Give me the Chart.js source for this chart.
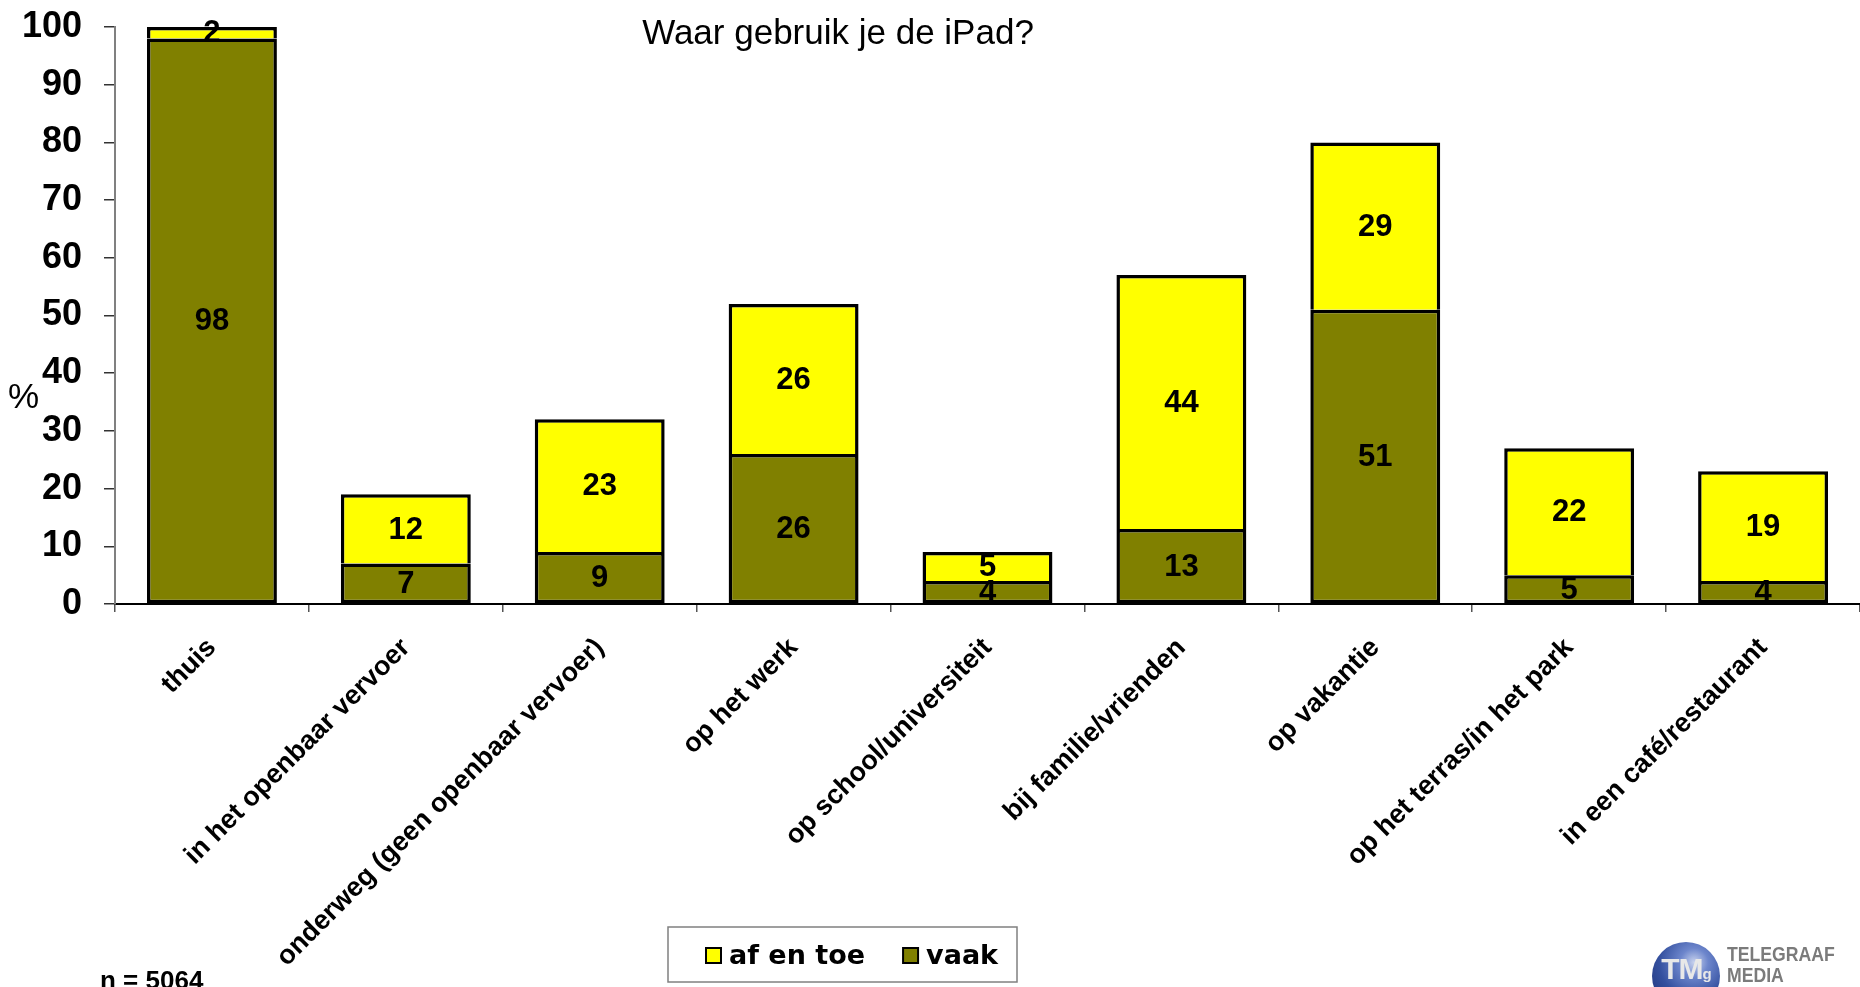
<!DOCTYPE html>
<html lang="nl">
<head>
<meta charset="utf-8">
<title>Waar gebruik je de iPad?</title>
<script src="https://cdn.jsdelivr.net/npm/chart.js@4.4.1/dist/chart.umd.min.js"></script>
<style>
  html, body { margin: 0; padding: 0; background: #fff; overflow: hidden; }
  #wrap { position: relative; width: 1860px; height: 987px; overflow: hidden; }
  #chart { position: absolute; left: 0; top: 0; }
  .globe {
    position: absolute; left: 1652px; top: 942px; width: 68px; height: 68px; border-radius: 50%;
    background: radial-gradient(circle at 62% 30%, #c9d3ee 0, #6d86cc 22%, #34509f 55%, #1b2c70 100%);
    color: #e8e8e8; font: bold 30px "Liberation Sans", Arial, sans-serif; text-align: center;
    line-height: 54px; letter-spacing: -1px;
  }
  .globe small { font-size: 15px; }
  .logo-text {
    position: absolute; left: 1727px; top: 943px; color: #7b7b7b;
    font: bold 21px "Liberation Sans", Arial, sans-serif; line-height: 21px;
    transform: scaleX(0.84); transform-origin: left top; white-space: nowrap;
  }
</style>
</head>
<body>
<div id="wrap">
  <canvas id="chart" width="1860" height="987"></canvas>
  <div class="globe">TM<small>g</small></div>
  <div class="logo-text">TELEGRAAF<br>MEDIA</div>
</div>
<script>
// --- Datos ---

const categories = [
  "thuis",
  "in het openbaar vervoer",
  "onderweg (geen openbaar vervoer)",
  "op het werk",
  "op school/universiteit",
  "bij familie/vrienden",
  "op vakantie",
  "op het terras/in het park",
  "in een café/restaurant",
];
const vaak = [98, 7, 9, 26, 4, 13, 51, 5, 4];
const afEnToe = [2, 12, 23, 26, 5, 44, 29, 22, 19];
const yMin = 0;
const yMax = 100;
const yStep = 10;

const titleText = "Waar gebruik je de iPad?";
const yAxisLabel = "%";
const sampleNote = "n = 5064";

// --- Fuentes ---

const SANS = "'Liberation Sans', Arial, sans-serif";
const LEGEND_FONT = "bold 27px 'DejaVu Sans', Verdana, sans-serif";

// --- Plugins ---

// números dentro de cada segmento
const segmentLabels = {
  id: "segmentLabels",
  afterDatasetsDraw(chart) {
    const ctx = chart.ctx;
    ctx.save();
    ctx.font = `bold 31px ${SANS}`;
    ctx.fillStyle = "#000";
    ctx.textAlign = "center";
    ctx.textBaseline = "middle";
    chart.data.datasets.forEach((ds, i) => {
      chart.getDatasetMeta(i).data.forEach((bar, j) => {
        const { x, y, base } = bar.getProps(["x", "y", "base"], true);
        ctx.fillText(String(ds.data[j]), x, (y + base) / 2 + 1);
      });
    });
    ctx.restore();
  },
};

// título, "%" y nota de muestra
const extraTexts = {
  id: "extraTexts",
  afterDraw(chart) {
    const ctx = chart.ctx;
    ctx.save();
    ctx.fillStyle = "#000";
    ctx.textBaseline = "alphabetic";

    ctx.font = `35px ${SANS}`;
    ctx.textAlign = "center";
    ctx.fillText(titleText, 838, 44);

    ctx.textAlign = "left";
    ctx.fillText(yAxisLabel, 8, 408);

    ctx.font = `bold 26px ${SANS}`;
    ctx.fillText(sampleNote, 100, 989);
    ctx.restore();
  },
};

// leyenda con marco, en orden inverso (como en el original)
const boxedLegend = {
  id: "boxedLegend",
  afterDraw(chart) {
    const ctx = chart.ctx;
    ctx.save();
    ctx.strokeStyle = "#808080";
    ctx.lineWidth = 1.5;
    ctx.strokeRect(668, 927, 349, 55);

    ctx.font = LEGEND_FONT;
    ctx.textAlign = "left";
    ctx.textBaseline = "alphabetic";
    let x = 706;
    chart.data.datasets.slice().reverse().forEach(ds => {
      ctx.fillStyle = ds.backgroundColor;
      ctx.fillRect(x, 948, 15, 15);
      ctx.strokeStyle = "#000";
      ctx.lineWidth = 2;
      ctx.strokeRect(x, 948, 15, 15);
      ctx.fillStyle = "#000";
      ctx.fillText(ds.label, x + 23, 964);
      x += 23 + ctx.measureText(ds.label).width + 38;
    });
    ctx.restore();
  },
};

// --- Gráfica ---

const barStyle = {
  borderColor: "#000",
  borderWidth: 3.5,
  inflateAmount: 0,
  barPercentage: 0.67,
  categoryPercentage: 1.0,
};

new Chart(document.getElementById("chart"), {
  type: "bar",
  data: {
    labels: categories,
    datasets: [
      { label: "vaak", data: vaak, backgroundColor: "#808000", borderSkipped: false, ...barStyle },
      { label: "af en toe", data: afEnToe, backgroundColor: "#FFFF00", borderSkipped: "start", ...barStyle },
    ],
  },
  options: {
    responsive: false,
    animation: false,
    events: [],
    layout: { padding: { top: 27, right: 0, bottom: 0, left: 0 } },
    plugins: {
      legend: { display: false },
      tooltip: { enabled: false },
      title: { display: false },
    },
    scales: {
      x: {
        stacked: true,
        grid: { offset: true, drawOnChartArea: false, drawTicks: true, tickLength: 8, color: "#555", lineWidth: 1.5 },
        border: { color: "#000", width: 2 },
        ticks: {
          color: "#000",
          font: { family: SANS, size: 27, weight: "bold" },
          minRotation: 45,
          maxRotation: 45,
          autoSkip: false,
          padding: 20,
        },
        afterFit(scale) {
          scale.height = 383;
          scale.paddingLeft = 0;
          scale.paddingRight = 0;
        },
      },
      y: {
        stacked: true,
        min: yMin,
        max: yMax,
        grid: { drawOnChartArea: false, drawTicks: true, tickLength: 11, color: "#333", lineWidth: 1.5 },
        border: { color: "#808080", width: 2 },
        ticks: {
          stepSize: yStep,
          color: "#000",
          font: { family: SANS, size: 36, weight: "bold" },
          padding: 22,
        },
        afterFit(scale) {
          scale.width = 115;
          scale.paddingTop = 0;
          scale.paddingBottom = 0;
        },
      },
    },
  },
  plugins: [segmentLabels, extraTexts, boxedLegend],
});
</script>
</body>
</html>
